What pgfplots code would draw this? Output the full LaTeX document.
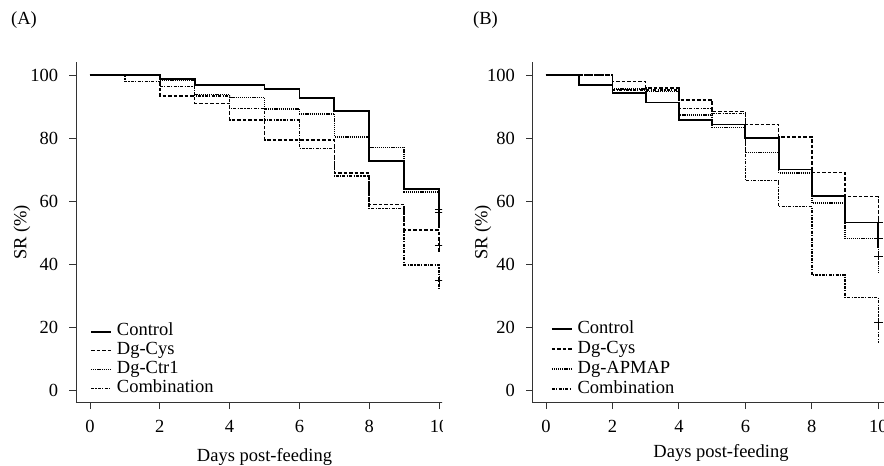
\documentclass[border=0pt]{standalone}
\usepackage{fontspec}
\setmainfont{Liberation Serif}
\usepackage{pgfplots}
\pgfplotsset{compat=1.18}
\newcommand{\fs}{\fontsize{18.5}{22}\selectfont}
\pgfplotsset{
  kmaxis/.style={
    scale only axis, height=340.2pt,
    xmin=-0.4, xmax=10.4, ymin=-4, ymax=104,
    axis lines=left, axis line style={-, draw=black!80, line width=0.9pt},
    tick align=outside, major tick length=6.5pt,
    tick style={draw=black!80, line width=0.9pt},
    xtick={0,2,...,10}, ytick={0,20,...,100},
    /pgf/number format/assume math mode=true,
    ticklabel style={font=\fs},
    yticklabel style={xshift=-5pt},
    xticklabel style={yshift=-5pt},
    label style={font=\fs},
    legend style={draw=none, fill=none, anchor=north west, font=\fs,
      inner sep=0pt, row sep=0pt, column sep=4pt},
    legend cell align=left,
    legend image code/.code={\draw[##1] (0pt,0pt) -- (20pt,0pt);},
  },
  ctl/.style={black, line width=1.8pt},
  cys/.style={black, line width=1.6pt, dash pattern=on 3.5pt off 2pt},
  dtt/.style={black, line width=1.6pt, dash pattern=on 1.2pt off 0.9pt},
  cmb/.style={black, line width=1.6pt, dash pattern=on 3pt off 1.3pt on 1.2pt off 1.3pt},
  cens/.style={only marks, mark=+, mark size=4.2pt, black, line width=1pt, forget plot},
}
\begin{document}
\fs
\begin{tikzpicture}[x=1pt,y=1pt]
\useasboundingbox (0,0) rectangle (884,466);
\node[anchor=west, inner sep=0pt, font=\fs] at (11,446) {(A)};
\node[anchor=west, inner sep=0pt, font=\fs] at (473,446) {(B)};
\begin{scope}
\clip (0,0) rectangle (442,466);
\begin{axis}[kmaxis, width=377pt, at={(76pt,63.4pt)}, anchor=south west,
  xlabel={Days post-feeding}, ylabel={SR (\%)},
  every axis x label/.style={at={(axis description cs:0.5,-0.1735)}, anchor=base},
  every axis y label/.style={at={(axis description cs:-0.1432,0.5)}, rotate=90, anchor=center},
  legend style={at={(axis description cs:0.037,0.237)},
    nodes={inner sep=1pt, text height=12.5pt, text depth=4.5pt}}]
\addplot[ctl, const plot] coordinates {(0,100)(2,98.7)(3,96.8)(5,95.6)(6,92.6)(7,88.6)(8,72.7)(9,63.8)(10,51.3)};
\addlegendentry{Control}
\addplot[cys, const plot] coordinates {(0,100)(2,93.4)(3,91.0)(4,85.7)(5,79.4)(7,68.8)(8,58.9)(9,50.8)(10,43.4)};
\addlegendentry{Dg-Cys}
\addplot[dtt, const plot] coordinates {(0,100)(2,98.2)(3,93.8)(4,92.9)(5,89.2)(6,87.7)(7,80.4)(8,77.0)(9,62.9)(10,52)};
\addlegendentry{Dg-Ctr1}
\addplot[cmb, const plot] coordinates {(0,100)(1,97.9)(2,96.3)(3,93.3)(4,89.4)(5,85.7)(6,76.7)(7,67.9)(8,57.6)(9,39.7)(10,31.7)};
\addlegendentry{Combination}
\addplot[cens] coordinates {(10,57.4)(10,56.3)(10,46.0)(10,34.9)};
\end{axis}
\end{scope}
\begin{axis}[kmaxis, width=358.9pt, at={(532.7pt,63.4pt)}, anchor=south west,
  xlabel={Days post-feeding}, ylabel={SR (\%)},
  every axis x label/.style={at={(axis description cs:0.5247,-0.16)}, anchor=base},
  every axis y label/.style={at={(axis description cs:-0.1385,0.5)}, rotate=90, anchor=center},
  legend style={at={(axis description cs:0.050,0.246)},
    nodes={inner sep=1pt, text height=13pt, text depth=5pt}}]
\addplot[ctl, const plot] coordinates {(0,100)(1,96.8)(2,94.2)(3,91.3)(4,85.7)(5,84.3)(6,79.9)(7,70.0)(8,61.7)(9,53.2)(10,45.2)};
\addlegendentry{Control}
\addplot[cys, const plot] coordinates {(0,100)(2,97.9)(3,95.8)(4,92.1)(5,88.4)(6,84.3)(7,80.4)(8,69.0)(9,61.4)(10,45)};
\addlegendentry{Dg-Cys}
\addplot[dtt, const plot] coordinates {(0,100)(2,95.6)(3,94.7)(4,87.3)(5,83.3)(6,75.4)(7,68.8)(8,59.3)(9,48.1)(10,37)};
\addlegendentry{Dg-APMAP}
\addplot[cmb, const plot] coordinates {(0,100)(2,95.2)(4,89.4)(5,87.8)(6,66.5)(7,58.2)(8,36.5)(9,29.4)(10,14.8)};
\addlegendentry{Combination}
\addplot[cens] coordinates {(10,53.2)(10,48.1)(10,42.5)(10,21.4)};
\end{axis}
\end{tikzpicture}
\end{document}
